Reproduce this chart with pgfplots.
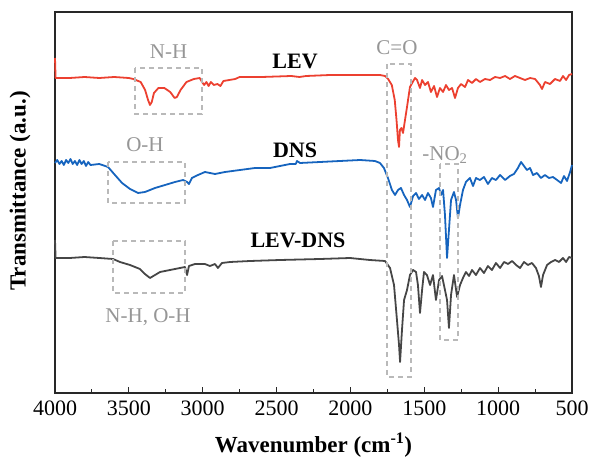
\documentclass[border=0pt]{standalone}
\usepackage{pgfplots}
\pgfplotsset{compat=1.18}
\usepackage{fontspec}
\setmainfont{Liberation Serif}
\definecolor{levred}{RGB}{236,64,48}
\definecolor{dnsblue}{RGB}{22,100,190}
\definecolor{mixgray}{RGB}{70,70,70}
\definecolor{boxgray}{RGB}{185,185,185}
\definecolor{notegray}{RGB}{150,150,150}
\definecolor{framegray}{RGB}{40,40,40}

\begin{document}
\begin{tikzpicture}
\begin{axis}[
  scale only axis,
  width=517bp,
  height=381bp,
  x dir=reverse,
  xmin=500, xmax=4000,
  ymin=-393, ymax=-12,
  xtick={500,1000,...,4000},
  minor x tick num=1,
  xtick pos=bottom,
  tick align=inside,
  ytick=\empty,
  axis line style={framegray, line width=1.2pt},
  major tick length=6bp,
  minor tick length=4bp,
  every tick/.style={framegray, line width=1.1pt},
  /pgf/number format/assume math mode=true,
  /pgf/number format/1000 sep={},
  tick label style={font=\fontsize{22bp}{26bp}\selectfont},
  xticklabel style={yshift=-4bp},
  xlabel={\textbf{Wavenumber (cm\textsuperscript{-1})}},
  ylabel={\textbf{Transmittance (a.u.)}},
  label style={font=\fontsize{23bp}{27bp}\selectfont},
  xlabel style={at={(rel axis cs:0.5,-0.1365)}, anchor=center},
  ylabel style={at={(rel axis cs:-0.0677,0.53)}, anchor=center},
  clip=false,
]
% LEV
\addplot[levred, line width=1.8pt, line join=round] coordinates {
(4000,-58) (3996,-78) (3900,-78) (3800,-77) (3700,-78) (3600,-77) (3500,-78)
(3470,-79) (3420,-82) (3390,-90) (3370,-100) (3357,-105) (3345,-102) (3330,-93)
(3300,-88) (3260,-88) (3220,-92) (3190,-98) (3175,-97) (3150,-90) (3110,-82)
(3060,-79) (3020,-78) (3005,-82) (2990,-85) (2975,-82) (2960,-86) (2945,-82)
(2925,-85) (2900,-84) (2880,-86) (2860,-81) (2820,-80) (2780,-79) (2750,-77)
(2600,-77) (2400,-76) (2345,-77) (2300,-76) (2138,-75) (1900,-75) (1800,-75)
(1766,-76) (1745,-79) (1720,-85) (1700,-100) (1688,-120) (1678,-140) (1671,-147)
(1665,-130) (1655,-128) (1644,-133) (1617,-107) (1597,-87) (1563,-78)
(1549,-80) (1529,-88) (1515,-80) (1495,-85) (1475,-82) (1455,-92) (1434,-86)
(1414,-97) (1394,-88) (1373,-92) (1353,-85) (1333,-90) (1312,-88) (1292,-98)
(1272,-88) (1251,-84) (1224,-87) (1204,-80) (1177,-83) (1150,-79) (1123,-82)
(1089,-79) (1055,-80) (1021,-77) (987,-78) (953,-76) (920,-79) (886,-76)
(852,-78) (818,-80) (784,-78) (750,-79) (717,-85) (703,-89) (683,-82)
(649,-84) (615,-79) (581,-81) (561,-76) (540,-80) (520,-75) (500,-74)
};
% DNS
\addplot[dnsblue, line width=1.8pt, line join=round] coordinates {
(4000,-163) (3985,-160) (3970,-164) (3955,-161) (3940,-165) (3925,-160) (3910,-163)
(3895,-159) (3880,-164) (3865,-161) (3850,-165) (3835,-160) (3820,-164) (3805,-161)
(3790,-166) (3775,-162) (3760,-165) (3700,-164) (3641,-167) (3594,-175) (3546,-183)
(3492,-189) (3438,-193) (3391,-192) (3323,-188) (3255,-185) (3188,-182) (3133,-180)
(3106,-182) (3093,-184) (3073,-178) (3032,-175) (2985,-172) (2917,-174) (2849,-172)
(2748,-170) (2646,-168) (2544,-168) (2477,-166) (2409,-164) (2370,-164) (2362,-161)
(2341,-163) (2206,-162) (2071,-161) (1935,-160) (1834,-161) (1800,-163) (1773,-168)
(1746,-178) (1719,-190) (1698,-195) (1678,-190) (1658,-188) (1637,-195) (1617,-200)
(1597,-207) (1576,-196) (1556,-193) (1536,-199) (1515,-195) (1495,-200) (1475,-193)
(1455,-198) (1441,-207) (1421,-190) (1400,-188) (1387,-195) (1373,-190) (1360,-215)
(1346,-258) (1333,-230) (1319,-200) (1299,-192) (1285,-200) (1272,-218) (1258,-205)
(1238,-190) (1218,-182) (1191,-178) (1170,-186) (1150,-178) (1123,-180) (1096,-177)
(1069,-184) (1042,-178) (1015,-180) (987,-175) (953,-180) (920,-176) (893,-174)
(866,-168) (845,-162) (825,-166) (805,-170) (784,-168) (764,-175) (737,-173)
(710,-178) (683,-175) (656,-178) (629,-177) (601,-180) (574,-183) (554,-176)
(534,-181) (513,-172) (500,-165)
};
% LEV-DNS
\addplot[mixgray, line width=1.8pt, line join=round] coordinates {
(4000,-240) (3996,-258) (3900,-258) (3800,-257) (3700,-258) (3607,-259) (3560,-262)
(3492,-265) (3425,-269) (3391,-274) (3357,-278) (3323,-275) (3289,-272) (3221,-270)
(3154,-268) (3120,-267) (3106,-275) (3093,-266) (3052,-264) (2985,-264) (2951,-266)
(2917,-264) (2897,-268) (2870,-263) (2815,-262) (2680,-261) (2477,-260) (2206,-259)
(2003,-258) (1868,-260) (1766,-261) (1732,-268) (1705,-285) (1685,-320) (1671,-345)
(1664,-362) (1651,-330) (1637,-300) (1617,-290) (1597,-275) (1576,-270) (1556,-272)
(1543,-285) (1529,-313) (1515,-290) (1502,-272) (1482,-275) (1461,-285) (1441,-275)
(1421,-300) (1400,-280) (1380,-276) (1360,-290) (1346,-300) (1333,-328) (1319,-295)
(1299,-275) (1278,-297) (1258,-285) (1238,-278) (1218,-272) (1197,-276) (1177,-270)
(1150,-275) (1123,-268) (1096,-273) (1069,-266) (1042,-270) (1015,-263) (987,-268)
(960,-262) (933,-264) (906,-261) (879,-265) (852,-268) (825,-262) (798,-265)
(771,-263) (744,-268) (724,-276) (710,-287) (696,-275) (669,-265) (642,-262)
(615,-260) (588,-262) (561,-258) (540,-262) (520,-257) (500,-258)
};
% dashed boxes
\begin{scope}[boxgray, line width=1.6pt, dash pattern=on 5bp off 4bp]
\draw (axis cs:3458,-68) rectangle (axis cs:3005,-114);
\draw (axis cs:3641,-162) rectangle (axis cs:3120,-203);
\draw (axis cs:3607,-241) rectangle (axis cs:3120,-293);
\draw (axis cs:1752,-64) rectangle (axis cs:1590,-377);
\draw (axis cs:1393,-164) rectangle (axis cs:1271,-340);
\end{scope}
% annotations
\begin{scope}[font=\fontsize{21bp}{25bp}\selectfont, text=notegray]
\node at (axis cs:3231,-52) {N-H};
\node at (axis cs:3391,-145) {O-H};
\node at (axis cs:3370,-317) {N-H, O-H};
\node at (axis cs:1685,-48) {C=O};
\node at (axis cs:1360,-155) {-NO\textsubscript{2}};
\end{scope}
\begin{scope}[font=\fontsize{22bp}{26bp}\selectfont\bfseries, text=black]
\node at (axis cs:2375,-61) {LEV};
\node at (axis cs:2375,-150) {DNS};
\node at (axis cs:2355,-240) {LEV-DNS};
\end{scope}
\path (rel axis cs:-0.1064,-0.1864) rectangle (rel axis cs:1.0406,1.0315);
\end{axis}
\end{tikzpicture}
\end{document}
